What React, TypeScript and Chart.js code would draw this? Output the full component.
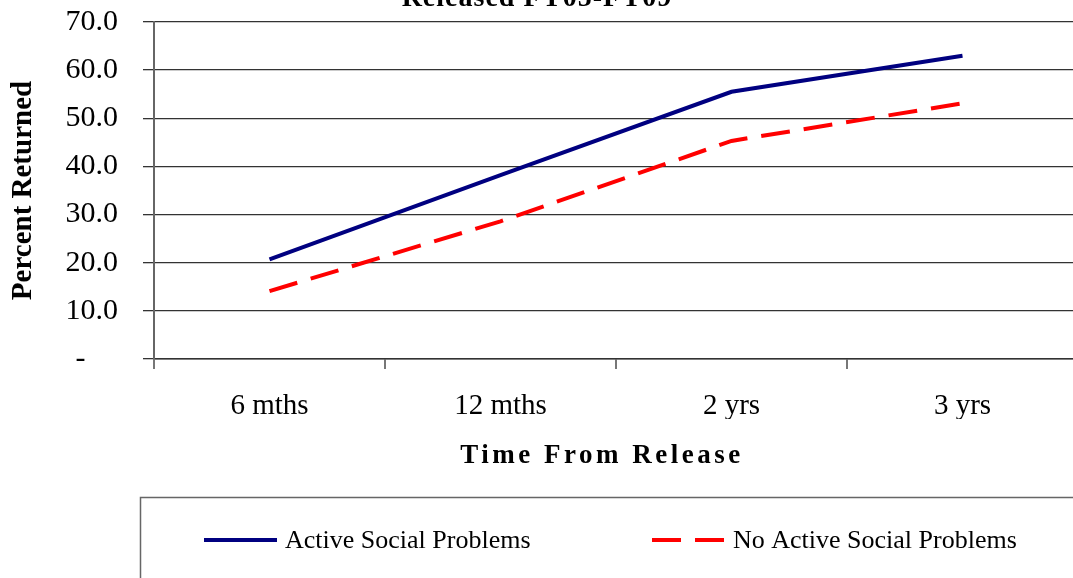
import React, { useEffect, useRef } from "react";
import { Chart, registerables } from "chart.js";

Chart.register(...registerables);

const SERIF = "'Liberation Serif', 'Times New Roman', serif";

const categories = ["6 mths", "12 mths", "2 yrs", "3 yrs"];
const activeSocialProblems = [20.7, 38.2, 55.5, 63.0];
const noActiveSocialProblems = [14.1, 28.6, 45.3, 53.1];
const seriesLabels = ["Active Social Problems", "No Active Social Problems"];
const chartTitle = "Released FY05-FY09";
const xAxisTitle = "Time From Release";
const yAxisTitle = "Percent Returned";
const yMin = 0;
const yMax = 70;
const yStep = 10;

const legendLayout = [
  { lineStart: 204, lineEnd: 277, textX: 285 },
  { lineStart: 652, lineEnd: 724, textX: 733 },
];

const decorPlugin = {
  id: "decor",
  afterDraw(chart: any) {
    const ctx = chart.ctx as CanvasRenderingContext2D;
    const area = chart.chartArea;
    ctx.save();
    ctx.fillStyle = "#000";
    ctx.textAlign = "center";
    ctx.textBaseline = "alphabetic";
    // chart title (only its last line is visible at the top)
    (ctx as any).letterSpacing = "1px";
    ctx.font = `bold 28px ${SERIF}`;
    ctx.fillText(chartTitle, 537, 6);
    // x axis title
    (ctx as any).letterSpacing = "3.5px";
    ctx.font = `bold 27px ${SERIF}`;
    ctx.fillText(xAxisTitle, (area.left + area.right) / 2 - 14, 463);
    (ctx as any).letterSpacing = "0px";

    // legend box
    ctx.strokeStyle = "#666";
    ctx.lineWidth = 1.5;
    ctx.strokeRect(140.5, 497.5, 1100, 200);

    // legend items
    const yMid = 540;
    chart.data.datasets.forEach((ds: any, i: number) => {
      const pos = legendLayout[i];
      ctx.save();
      ctx.strokeStyle = ds.borderColor;
      ctx.lineWidth = 4;
      ctx.lineCap = "butt";
      ctx.setLineDash(ds.borderDash || []);
      ctx.beginPath();
      ctx.moveTo(pos.lineStart, yMid);
      ctx.lineTo(pos.lineEnd, yMid);
      ctx.stroke();
      ctx.restore();
      ctx.font = `26px ${SERIF}`;
      ctx.textAlign = "left";
      ctx.textBaseline = "middle";
      ctx.fillStyle = "#000";
      ctx.fillText(ds.label, pos.textX, yMid + 1);
    });
    ctx.restore();
  },
};

export default function App() {
  const canvasRef = useRef<HTMLCanvasElement | null>(null);

  useEffect(() => {
    if (!canvasRef.current) return;
    const chart = new Chart(canvasRef.current, {
      type: "line",
      data: {
        labels: categories,
        datasets: [
          {
            label: seriesLabels[0],
            data: activeSocialProblems,
            borderColor: "#000080",
            backgroundColor: "#000080",
            borderWidth: 4,
            pointRadius: 0,
            tension: 0,
            fill: false,
          },
          {
            label: seriesLabels[1],
            data: noActiveSocialProblems,
            borderColor: "#FF0000",
            backgroundColor: "#FF0000",
            borderWidth: 4,
            borderDash: [29, 14],
            pointRadius: 0,
            tension: 0,
            fill: false,
          },
        ],
      },
      options: {
        animation: false,
        responsive: true,
        maintainAspectRatio: false,
        layout: { padding: { top: 22, right: 22, bottom: 159, left: 0 } },
        plugins: {
          legend: { display: false },
          title: { display: false },
          tooltip: { enabled: false },
        },
        scales: {
          x: {
            type: "category",
            offset: true,
            grid: {
              display: true,
              drawOnChartArea: false,
              drawTicks: true,
              tickLength: 10,
              offset: true,
              color: "#777",
              lineWidth: 2,
            },
            border: { display: true, color: "#333", width: 1.5 },
            ticks: {
              font: { family: SERIF, size: 29, lineHeight: 1.2 },
              color: "#000",
              padding: 20,
              maxRotation: 0,
              autoSkip: false,
            },
            afterFit: (s: any) => {
              s.height = 60;
            },
          },
          y: {
            min: yMin,
            max: yMax,
            ticks: {
              stepSize: yStep,
              font: { family: SERIF, size: 30, lineHeight: 1.2 },
              color: "#000",
              padding: 25,
              callback: (v: any) =>
                Number(v) === 0 ? "-    \u200A" : Number(v).toFixed(1),
            },
            grid: {
              color: "#333",
              lineWidth: 1.3,
              tickLength: 11,
              drawTicks: true,
            },
            border: { display: true, color: "#666", width: 2 },
            title: {
              display: true,
              text: yAxisTitle,
              color: "#000",
              font: { family: SERIF, size: 29, weight: "bold", lineHeight: 1.2 },
              padding: { top: 6, bottom: 0 },
            },
            afterFit: (s: any) => {
              s.width = 154;
              s.paddingTop = 0;
              s.paddingBottom = 0;
            },
          },
        },
      },
      plugins: [decorPlugin],
    });
    return () => chart.destroy();
  }, []);

  return (
    <div
      style={{
        position: "absolute",
        left: 0,
        top: 0,
        width: 1073,
        height: 578,
        overflow: "hidden",
        background: "#fff",
      }}
    >
      <div style={{ position: "relative", width: 1100, height: 578 }}>
        <canvas ref={canvasRef} />
      </div>
    </div>
  );
}
